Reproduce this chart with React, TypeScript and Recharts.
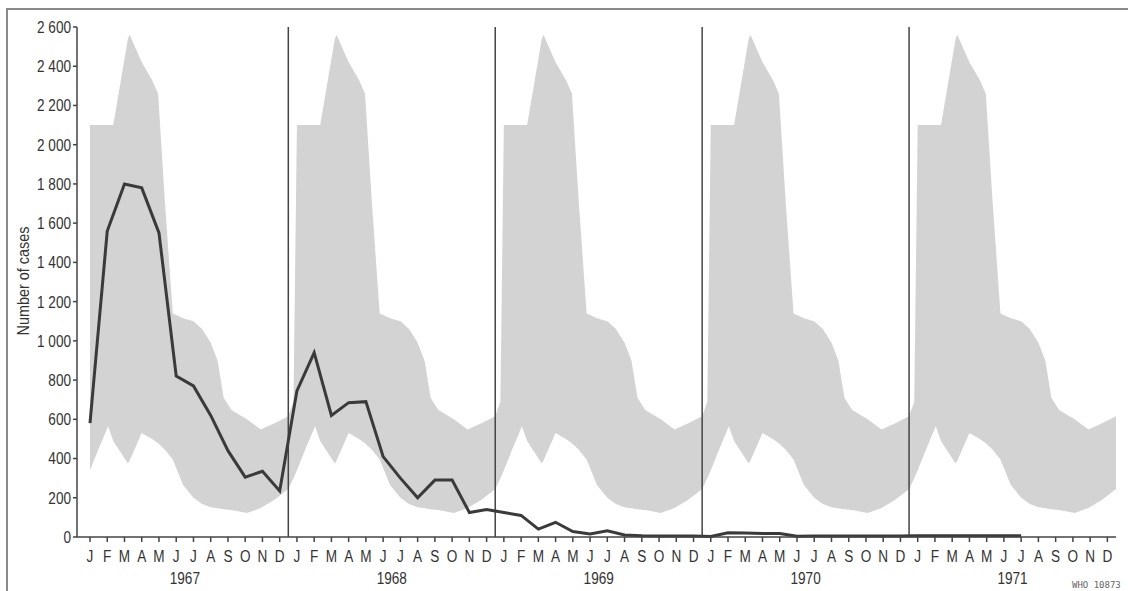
import {
  Area,
  ComposedChart,
  Line,
  ReferenceLine,
  XAxis,
  YAxis,
} from "recharts";

const FONT = "'Liberation Sans', Arial, sans-serif";
const SQUEEZE = 0.8;

const monthLetters = ["J", "F", "M", "A", "M", "J", "J", "A", "S", "O", "N", "D"];
const years = ["1967", "1968", "1969", "1970", "1971"];

// monthly number of cases (dark line)
const cases1967 = [580, 1560, 1800, 1780, 1550, 820, 770, 620, 440, 305, 335, 235];
const cases1968 = [745, 940, 620, 685, 690, 410, 300, 200, 290, 290, 125, 140];
const cases1969 = [125, 110, 40, 75, 28, 15, 32, 10, 6, 5, 5, 5];
const cases1970 = [3, 22, 20, 18, 18, 4, 5, 5, 5, 5, 5, 5];
const cases1971 = [6, 6, 6, 6, 6, 6, 6];

// seasonal range (shaded band), same outline every year; offset in months from January
const bandOffset = [-0.5, -0.2, 0, 0.5, 1.05, 1.35, 2.2, 2.3, 3.0, 3.6, 3.95, 4.35, 4.8, 5.4, 6.0, 6.5, 7.0, 7.4, 7.75, 8.2, 9.1, 9.9, 10.7, 11.5];
const bandLow = [245, 300, 340, 450, 565, 490, 375, 390, 530, 500, 478, 445, 395, 265, 200, 168, 152, 146, 142, 138, 122, 148, 190, 245];
const bandHigh = [615, 690, 2100, 2100, 2100, 2100, 2540, 2560, 2420, 2330, 2260, 1700, 1140, 1115, 1100, 1060, 990, 900, 710, 648, 600, 548, 580, 615];

const yTicks = [0, 200, 400, 600, 800, 1000, 1200, 1400, 1600, 1800, 2000, 2200, 2400, 2600];

const lineData = [cases1967, cases1968, cases1969, cases1970, cases1971].flatMap((arr, y) =>
  arr.map((v, m) => ({ x: y * 12 + m, cases: v }))
);

const bandData = years
  .flatMap((_, y) =>
    bandOffset.map((o, k) => ({ x: y * 12 + o, range: [bandLow[k], bandHigh[k]] }))
  )
  .filter((p) => p.x >= 0);

const monthTicks = years.flatMap((_, y) => monthLetters.map((__, m) => y * 12 + m));
const yearTicks = years.map((_, y) => y * 12 + 5.5);
const yearLines = [11.5, 23.5, 35.5, 47.5];

function formatCases(v: number) {
  if (v < 1000) return String(v);
  const s = String(v);
  return s.slice(0, s.length - 3) + " " + s.slice(-3);
}

// narrow typeface look: squeeze the text horizontally
function NarrowTick(props: any) {
  const { x, y, payload, anchor, dy, format } = props;
  return (
    <g transform={`translate(${x},${y})`}>
      <text
        transform={`scale(${SQUEEZE},1)`}
        textAnchor={anchor}
        dy={dy}
        fill="#333"
        fontSize={17}
        fontFamily={FONT}
      >
        {format(payload.value)}
      </text>
    </g>
  );
}

export default function App() {
  return (
    <div style={{ position: "absolute", left: 0, top: 0, width: 1128, height: 591, background: "#fff" }}>
      <div style={{ position: "absolute", left: 7, top: 8, width: 1121, height: 1.5, background: "#8a8a8a" }} />
      <div style={{ position: "absolute", left: 6, top: 8, width: 1.5, height: 583, background: "#8a8a8a" }} />
      <ComposedChart
        width={1128}
        height={591}
        margin={{ top: 27, right: 12, bottom: 0, left: 0 }}
      >
        <XAxis
          type="number"
          dataKey="x"
          domain={[-0.754, 59.5]}
          ticks={monthTicks}
          interval={0}
          height={30}
          tickSize={5}
          tickMargin={8}
          stroke="#444"
          strokeWidth={1.5}
          tick={
            <NarrowTick anchor="middle" dy="0.71em" format={(i: number) => monthLetters[i % 12]} />
          }
          allowDataOverflow
        />
        <XAxis
          xAxisId="yr"
          type="number"
          dataKey="x"
          domain={[-0.754, 59.5]}
          ticks={yearTicks}
          interval={0}
          height={24}
          axisLine={false}
          tickLine={false}
          tickSize={0}
          tickMargin={5}
          tick={
            <NarrowTick anchor="middle" dy="0.71em" format={(v: number) => years[Math.floor(v / 12)]} />
          }
          allowDataOverflow
        />
        <YAxis
          type="number"
          domain={[0, 2600]}
          ticks={yTicks}
          interval={0}
          width={77}
          tickSize={4}
          tickMargin={2}
          stroke="#444"
          strokeWidth={1.5}
          tick={<NarrowTick anchor="end" dy="0.35em" format={formatCases} />}
        />
        <Area
          data={bandData}
          dataKey="range"
          type="linear"
          fill="#d3d3d3"
          fillOpacity={1}
          stroke="none"
          isAnimationActive={false}
        />
        {yearLines.map((x) => (
          <ReferenceLine key={x} x={x} stroke="#444" strokeWidth={1.5} />
        ))}
        <Line
          data={lineData}
          dataKey="cases"
          type="linear"
          stroke="#3a3a3a"
          strokeWidth={3}
          dot={false}
          isAnimationActive={false}
        />
      </ComposedChart>
      <div
        style={{
          position: "absolute",
          left: 24,
          top: 281,
          transform: "translate(-50%, -50%) rotate(-90deg) scaleX(0.9)",
          whiteSpace: "nowrap",
          fontFamily: FONT,
          fontSize: 16,
          color: "#333",
        }}
      >
        Number of cases
      </div>
      <div
        style={{
          position: "absolute",
          left: 1072,
          top: 580,
          fontFamily: "'DejaVu Sans Mono', monospace",
          fontSize: 9,
          color: "#666",
          whiteSpace: "nowrap",
        }}
      >
        WHO 10873
      </div>
    </div>
  );
}
